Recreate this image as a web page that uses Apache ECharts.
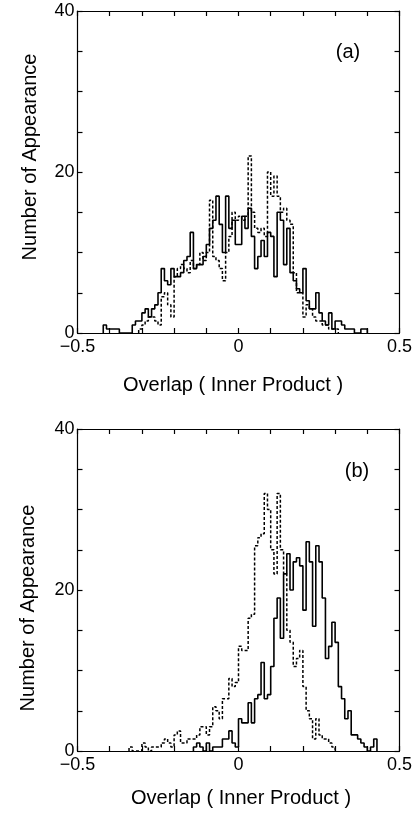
<!DOCTYPE html>
<html>
<head>
<meta charset="utf-8">
<script src="https://cdn.jsdelivr.net/npm/echarts@6/dist/echarts.min.js"></script>
<style>
html,body{margin:0;padding:0;background:#fff;}
#chart{width:417px;height:815px;}
</style>
</head>
<body>
<div id="chart"></div>
<script>
// Histogram counts, bin width 0.01, each array starts at its given lower bin edge
const binWidth = 0.01;
const xTickLabels = {'-0.5': '\u22120.5', '0': '0', '0.5': '0.5'};
const yTickLabels = ['0', '20', '40'];
const xAxisTitle = 'Overlap ( Inner Product )';
const yAxisTitle = 'Number of Appearance';
const panelLabels = ['(a)', '(b)'];

const aSolidStart = -0.42;
const aSolid = [1,0.5,0.5,0.5,0.5,0,0,0,0,1,
  1.5,1.5,2.5,3,2,3,3.5,5,8,6.5,
  6,8,7,7,7.5,9,9.5,12.5,8,8.5,
  8.5,9.5,11,13,14,17,13.5,10,17,13,
  14,11,11,14.5,13,15.5,12,8,9.5,11.5,
  9.5,12.5,12,7,15,14,8.5,13,7.5,6.5,
  5.5,5,8,4,3,3,5,2.5,1.5,1,
  2.5,0.5,1.5,1.5,1,0.5,0.5,0.5,0,0,
  0.5,0.5];

const aDashStart = -0.31;
const aDash = [0.5,1,1.5,2,2,1.5,1,4.5,5,3.5,
  2,7,8,8.5,8,7.5,9,8,8.5,10,
  9,10,16.5,9.5,9,8,6.5,10,12,15,
  14,14.5,14,14.5,22,15,13,12.5,13,12,
  20,17,19.5,17,15,15.5,14,13.5,7.5,5,
  5,2,3.5,3,2,1.5,1.5,1,1,0.5,
  0.5,0.5];

const bSolidStart = -0.14;
const bSolid = [0.5,1,0.5,0,1,0,0.5,0.5,0.5,1.5,
  1.5,2.5,1,0.5,4,3.5,3.5,6,3.5,6.5,
  7,11,6.5,7,10.5,16.5,19,14,22,24.5,
  20,23.5,24,23,17.5,26,23.5,15.5,25.5,23.5,
  19,11.5,13,16,13.5,8,6.5,4,5,2,
  2,1.5,1,0.5,0,0.5,1.5];

const bDashStart = -0.34;
const bDash = [0.5,0,0,0,1,0.5,0,0.5,0.5,0.5,
  1,1.5,1,0.5,2,2.5,1,1,1.5,1.5,
  1.5,2,3,3,2,3,5.5,5,4,6.5,
  6.5,9,8,8.5,13,12.5,12.5,16.5,17,25.5,
  26.5,27,32,30,25,22,32,25,22,15,
  13.5,10.5,11.5,12.5,8,5,4,1.5,4,2,
  1.5,1.5,1,0.5];

function stepData(start, counts) {
  const pts = [[start, 0]];
  counts.forEach((v, i) => {
    pts.push([Math.round((start + i * binWidth) * 1000) / 1000, v]);
  });
  pts.push([Math.round((start + counts.length * binWidth) * 1000) / 1000, 0]);
  return pts;
}

const FONT = '"Liberation Sans", Arial, Helvetica, sans-serif';
const grids = [
  {left: 77.5, right: 17.5, top: 11, height: 322},
  {left: 77.5, right: 17.5, top: 429, height: 322}
];

function xAxes(g) {
  const base = {
    gridIndex: g, type: 'value', min: -0.5, max: 0.5, interval: 0.1,
    axisLine: {show: true, onZero: false, lineStyle: {color: '#000', width: 1.2}},
    axisTick: {show: true, inside: true, length: 5, lineStyle: {color: '#000', width: 1.2}},
    splitLine: {show: false}
  };
  return [
    Object.assign({}, base, {
      position: 'bottom',
      axisLabel: {
        show: true, color: '#000', fontSize: 18, fontFamily: FONT, margin: 5,
        formatter: v => {
          const k = String(Math.round(v * 10) / 10);
          return xTickLabels[k] !== undefined ? xTickLabels[k] : '';
        }
      }
    }),
    Object.assign({}, base, {position: 'top', axisLabel: {show: false}})
  ];
}
function yAxes(g) {
  const base = {
    gridIndex: g, type: 'value', min: 0, max: 40, interval: 5,
    axisLine: {show: true, onZero: false, lineStyle: {color: '#000', width: 1.2}},
    axisTick: {show: true, inside: true, length: 5, lineStyle: {color: '#000', width: 1.2}},
    splitLine: {show: false}
  };
  return [
    Object.assign({}, base, {
      position: 'left',
      axisLabel: {
        show: true, color: '#000', fontSize: 18, fontFamily: FONT, margin: 3,
        formatter: v => (yTickLabels.indexOf(String(v)) >= 0 ? String(v) : '')
      }
    }),
    Object.assign({}, base, {position: 'right', axisLabel: {show: false}})
  ];
}

function series(xi, yi, start, counts, dashed) {
  return {
    type: 'line', xAxisIndex: xi, yAxisIndex: yi, step: 'end', symbol: 'none',
    silent: true, animation: false, clip: true,
    lineStyle: {color: '#000', width: dashed ? 1.5 : 1.6, type: dashed ? [3, 2] : 'solid'},
    data: stepData(start, counts), z: dashed ? 3 : 4
  };
}

function txt(x, y, text, size, rot) {
  return {
    type: 'text', x: x, y: y, rotation: rot || 0, silent: true,
    style: {text: text, font: size + 'px ' + FONT, fill: '#000',
      align: 'center', verticalAlign: 'middle',
      textAlign: 'center', textVerticalAlign: 'middle'}
  };
}

const chart = echarts.init(document.getElementById('chart'), null, {renderer: 'canvas'});
chart.setOption({
  animation: false,
  backgroundColor: '#fff',
  grid: grids,
  xAxis: xAxes(0).concat(xAxes(1)),
  yAxis: yAxes(0).concat(yAxes(1)),
  series: [
    series(0, 0, aDashStart, aDash, true),
    series(0, 0, aSolidStart, aSolid, false),
    series(2, 2, bDashStart, bDash, true),
    series(2, 2, bSolidStart, bSolid, false)
  ],
  graphic: [
    txt(233, 385, xAxisTitle, 20),
    txt(241, 798, xAxisTitle, 20),
    txt(30, 157, yAxisTitle, 20, Math.PI / 2),
    txt(28, 608, yAxisTitle, 20, Math.PI / 2),
    txt(348, 52, panelLabels[0], 20),
    txt(357, 471, panelLabels[1], 20)
  ]
});
</script>
</body>
</html>
